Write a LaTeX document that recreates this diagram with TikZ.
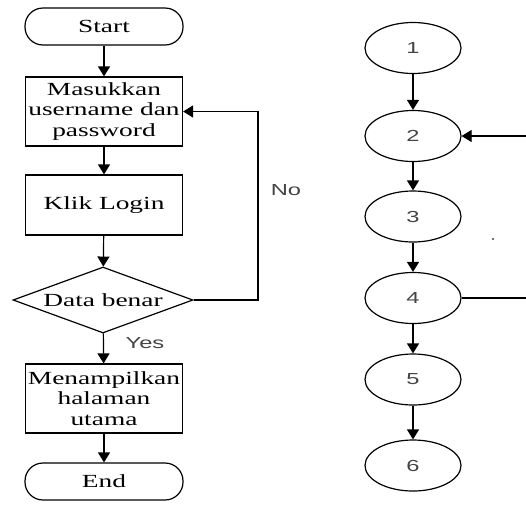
\documentclass[tikz,border=0pt]{standalone}
\usepackage{fontspec}
\setmainfont{Liberation Serif}
\newfontfamily\serifw[FakeStretch=1.48]{Liberation Serif}
\newfontfamily\sansw[FakeStretch=1.48]{Liberation Sans}
\usetikzlibrary{arrows.meta,shapes.geometric}
\definecolor{numgray}{HTML}{444444}
\begin{document}
\begin{tikzpicture}[x=1pt,y=-1pt,
  line width=1.2pt,
  arr/.style={-{Triangle[length=10pt,width=12pt]}},
  txt/.style={font=\serifw\fontsize{18.5}{20.5}\selectfont},
  box/.style={draw, txt, minimum width=157pt, align=center, inner sep=0pt},
  term/.style={draw, txt, minimum width=158pt, minimum height=37pt, rounded corners=18pt, inner sep=0pt},
  dec/.style={draw, diamond, txt, minimum width=180pt, minimum height=66pt, aspect=2.7, inner sep=0pt},
  circ/.style={draw, ellipse, minimum width=96pt, minimum height=51pt, inner sep=0pt,
    font=\sansw\fontsize{16}{18}\selectfont, text=numgray},
  lab/.style={font=\sansw\fontsize{16}{18}\selectfont, text=numgray}]
\useasboundingbox (0,0) rectangle (526,504);
% left flowchart
\node[term] (start) at (104,26.5) {Start};
\node[box, minimum height=69pt] (input) at (104,111.5) {Masukkan\\username dan\\password};
\node[box, minimum height=60pt] (klik) at (104,205) {Klik Login};
\node[dec] (dec) at (103,300) {Data benar};
\node[box, minimum height=69pt] (show) at (104,398.5) {Menampilkan\\halaman\\utama};
\node[term] (end) at (104,481.5) {End};
\coordinate (loopc) at (258,300);
\draw[arr] (start) -- (input);
\draw[arr] (input) -- (klik);
\draw[arr] (klik) -- (dec);
\draw[arr] (dec) -- (show);
\draw[arr] (show) -- (end);
\draw[arr] (dec.east) -- (loopc) |- (input.east);
\node[lab] (no) at (286,190) {No};
\node[lab] (yes) at (145,343) {Yes};
% right graph
\node[circ] (n1) at (413,48) {1};
\node[circ] (n2) at (413,136) {2};
\node[circ] (n3) at (413,216.5) {3};
\node[circ] (n4) at (413,298) {4};
\node[circ] (n5) at (413,379.5) {5};
\node[circ] (n6) at (413,465.5) {6};
\coordinate (r2) at (526,136);
\coordinate (r4) at (526,298);
\draw[arr] (n1) -- (n2);
\draw[arr] (n2) -- (n3);
\draw[arr] (n3) -- (n4);
\draw[arr] (n4) -- (n5);
\draw[arr] (n5) -- (n6);
\draw[arr] (r2) -- (n2);
\draw (n4) -- (r4);
\fill[numgray] (493,239) circle (1.2pt);
\end{tikzpicture}
\end{document}
